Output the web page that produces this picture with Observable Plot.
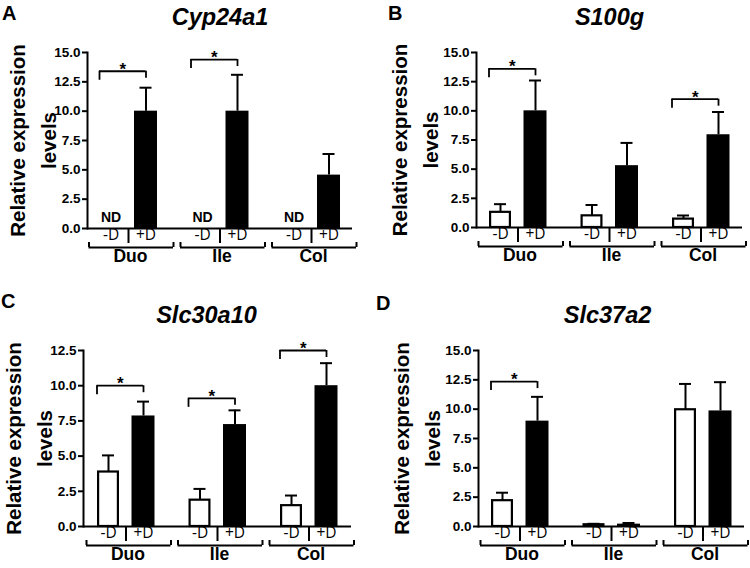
<!DOCTYPE html>
<html><head><meta charset="utf-8">
<script src="https://cdn.jsdelivr.net/npm/d3@7"></script>
<script src="https://cdn.jsdelivr.net/npm/@observablehq/plot@0.6"></script>
<style>
html,body{margin:0;padding:0;background:#fff;}
#wrap{position:relative;width:750px;height:568px;overflow:hidden;font-family:"Liberation Sans",Arial,sans-serif;}
.panel{position:absolute;width:375px;height:284px;}
.letter{position:absolute;font-weight:bold;font-size:20px;line-height:1;font-family:"Liberation Sans",Arial,sans-serif;}
</style></head><body><div id="wrap"></div>
<script>
// ---- data ----
const groups = ["Duo", "Ile", "Col"];
const conditions = ["-D", "+D"];
const panelLetters = ["A", "B", "C", "D"];
const genes = ["Cyp24a1", "S100g", "Slc30a10", "Slc37a2"];
const yMax = [15, 15, 12.5, 15];
const yTicks15 = [0, 2.5, 5, 7.5, 10, 12.5, 15];
const yTicks125 = [0, 2.5, 5, 7.5, 10, 12.5];
const yTitle = "Relative expression\nlevels";

// means and (mean + error) tops, per group Duo / Ile / Col
const minusA = [null, null, null], minusErrA = [null, null, null];
const plusA = [10.0, 10.0, 4.55], plusErrA = [12.0, 13.1, 6.35];
const minusB = [1.3, 1.0, 0.72], minusErrB = [2.0, 1.93, 1.03];
const plusB = [10.0, 5.3, 7.95], plusErrB = [12.6, 7.25, 9.9];
const minusC = [3.87, 1.87, 1.48], minusErrC = [5.05, 2.67, 2.2];
const plusC = [7.85, 7.24, 10.0], plusErrC = [8.87, 8.25, 11.6];
const minusD = [2.2, 0.15, 9.95], minusErrD = [2.88, 0.23, 12.15];
const plusD = [8.98, 0.2, 9.85], plusErrD = [11.05, 0.3, 12.3];
// significance bracket heights (null = none)
const sigA = [13.4, 14.4, null];
const sigB = [13.6, null, 11.0];
const sigC = [10.0, 9.1, 12.5];
const sigD = [12.35, null, null];

// ---- layout (styling only) ----
const layout = [
  {left: 0, top: 0, mL: 87, mR: 23, mT: 52, mB: 56, titleDx: 0, yTitleDx: -57},
  {left: 375, top: 0, mL: 101, mR: 8, mT: 52, mB: 57, titleDx: 0, yTitleDx: -64},
  {left: 0, top: 284, mL: 83, mR: 24, mT: 66, mB: 42, titleDx: -11, yTitleDx: -57},
  {left: 375, top: 284, mL: 103, mR: 6, mT: 66, mB: 42, titleDx: -4, yTitleDx: -64}
];
const letterPos = [{x: 2, y: 3}, {x: 388, y: 3}, {x: 1, y: 291}, {x: 376, y: 293}];

const SANS = "Liberation Sans";
const LABEL = "Open Sans";

function panel(k, minus, minusErr, plus, plusErr, sig, ticks) {
  const L = layout[k];
  const W = 375 - L.mL - L.mR;
  const step = 91.5, bw = 58;
  const pI = 1 - bw / step;
  const pO = (W / step - 3 + pI) / 2;
  const rowsM = groups.map((g, i) => ({group: g, value: minus[i], err: minusErr[i]})).filter(d => d.value != null);
  const rowsP = groups.map((g, i) => ({group: g, value: plus[i], err: plusErr[i]})).filter(d => d.value != null);
  const nd = groups.filter((g, i) => minus[i] == null);
  const sigRows = groups.map((g, i) => ({group: g, y: sig[i]})).filter(d => d.y != null);
  return Plot.plot({
    width: 375, height: 284,
    marginLeft: L.mL, marginRight: L.mR, marginTop: L.mT, marginBottom: L.mB,
    style: {fontFamily: SANS, color: "black", background: "transparent", overflow: "visible"},
    x: {domain: groups, paddingInner: pI, paddingOuter: pO, align: 0.5, round: false, axis: null},
    y: {domain: [0, yMax[k]]},
    marks: [
      // bars
      Plot.barY(rowsM, {x: "group", y: "value", fill: "white", stroke: "black", strokeWidth: 2.2, insetLeft: 1.6, insetRight: 36.6}),
      Plot.barY(rowsP, {x: "group", y: "value", fill: "black", insetLeft: 35}),
      // error bars
      Plot.ruleX(rowsM, {x: "group", y1: "value", y2: "err", dx: -17.5, strokeWidth: 2}),
      Plot.tickY(rowsM, {x: "group", y: "err", insetLeft: 5.5, insetRight: 40.5, strokeWidth: 2}),
      Plot.ruleX(rowsP, {x: "group", y1: "value", y2: "err", dx: 17.5, strokeWidth: 2}),
      Plot.tickY(rowsP, {x: "group", y: "err", insetLeft: 40.5, insetRight: 5.5, strokeWidth: 2}),
      // not detected
      Plot.text(nd, {x: d => d, y: 0, text: () => "ND", dx: -17.5, dy: -7, lineAnchor: "bottom", fontSize: 14, fontWeight: "bold", fill: "black"}),
      // significance brackets
      Plot.tickY(sigRows, {x: "group", y: "y", insetLeft: 0, insetRight: 11.5, strokeWidth: 1.8}),
      Plot.ruleX(sigRows, {x: "group", y1: "y", y2: "y", dx: -29, insetTop: 9, insetBottom: 0, strokeWidth: 1.8}),
      Plot.ruleX(sigRows, {x: "group", y1: "y", y2: "y", dx: 17.5, insetTop: 7, insetBottom: 0, strokeWidth: 1.8}),
      Plot.text(sigRows, {x: "group", y: "y", text: () => "*", dx: -5.75, dy: 3.5, lineAnchor: "bottom", fontSize: 17, fontWeight: "bold", fill: "black"}),
      // axes
      Plot.frame({anchor: "left", strokeWidth: 2}),
      Plot.ruleY([0], {strokeWidth: 2}),
      Plot.axisY({ticks, tickFormat: () => "", tickSize: 5, label: null, strokeWidth: 2}),
      Plot.text(ticks, {y: d => d, text: d => d.toFixed(1), frameAnchor: "left", textAnchor: "end", dx: -7, fontSize: 13.5, fontWeight: "bold", fill: "black"}),
      // condition labels and dividers
      Plot.text(groups, {x: d => d, text: () => conditions[0], frameAnchor: "bottom", dx: -17.5, dy: 11, fontFamily: LABEL, fontSize: 15.5, fill: "black"}),
      Plot.text(groups, {x: d => d, text: () => conditions[1], frameAnchor: "bottom", dx: 17.5, dy: 11, fontFamily: LABEL, fontSize: 15.5, fill: "black"}),
      Plot.ruleX(groups, {x: d => d, y1: 0, y2: 0, insetTop: 15, insetBottom: 0, strokeWidth: 2}),
      // group brackets
      Plot.tickY(groups, {x: d => d, y: 0, dy: 19, insetLeft: -10.5, insetRight: -16, strokeWidth: 2}),
      Plot.ruleX(groups, {x: d => d, y1: 0, y2: 0, dx: -39.5, insetTop: 19, insetBottom: -14, strokeWidth: 2}),
      Plot.ruleX(groups, {x: d => d, y1: 0, y2: 0, dx: 45, insetTop: 19, insetBottom: -14, strokeWidth: 2}),
      Plot.text(groups, {x: d => d, text: d => d, frameAnchor: "bottom", dx: 2, dy: 33, fontSize: 17.5, fontWeight: "bold", fill: "black"}),
      // titles
      Plot.text([genes[k]], {frameAnchor: "top", text: d => d, dx: L.titleDx, dy: -27.7, lineAnchor: "bottom", fontSize: 23.5, fontWeight: "bold", fontStyle: "italic", fill: "black"}),
      Plot.text([yTitle], {frameAnchor: "left", textAnchor: "middle", text: d => d, rotate: -90, dx: L.yTitleDx, fontSize: 20.5, fontWeight: "bold", lineHeight: 1.5, fill: "black"})
    ]
  });
}

const wrap = document.getElementById("wrap");
const specs = [
  [minusA, minusErrA, plusA, plusErrA, sigA, yTicks15],
  [minusB, minusErrB, plusB, plusErrB, sigB, yTicks15],
  [minusC, minusErrC, plusC, plusErrC, sigC, yTicks125],
  [minusD, minusErrD, plusD, plusErrD, sigD, yTicks15]
];
specs.forEach((s, k) => {
  const div = document.createElement("div");
  div.className = "panel";
  div.style.left = layout[k].left + "px";
  div.style.top = layout[k].top + "px";
  div.appendChild(panel(k, ...s));
  wrap.appendChild(div);
  const lt = document.createElement("div");
  lt.className = "letter";
  lt.style.left = letterPos[k].x + "px";
  lt.style.top = letterPos[k].y + "px";
  lt.textContent = panelLetters[k];
  wrap.appendChild(lt);
});
</script></body></html>
